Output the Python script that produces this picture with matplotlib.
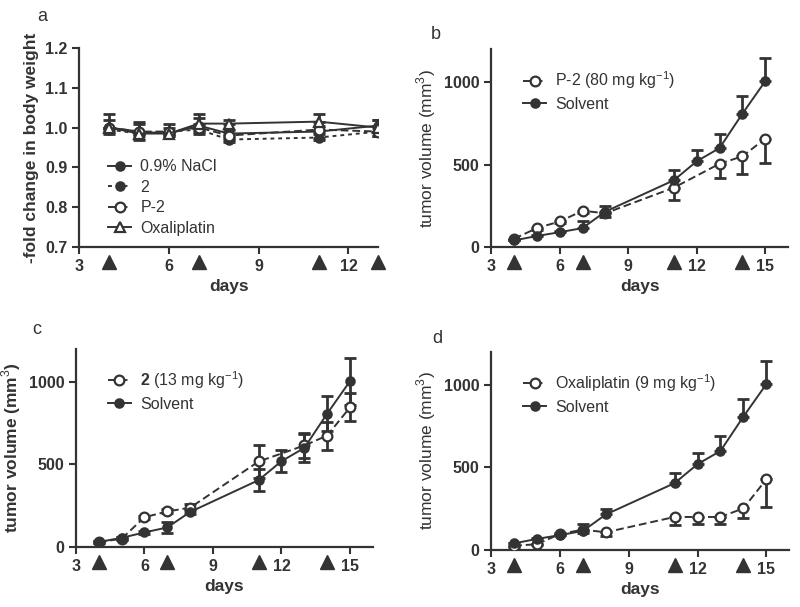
import matplotlib
matplotlib.use("Agg")
import matplotlib.pyplot as plt
import matplotlib.transforms as mtransforms

plt.rcParams['font.family'] = ['Liberation Sans', 'DejaVu Sans']
plt.rcParams['mathtext.fontset'] = 'custom'
plt.rcParams['mathtext.rm'] = 'Liberation Sans'
plt.rcParams['mathtext.bf'] = 'Liberation Sans:bold'

# Данные: панель a (масса тела)
days_a = [4, 5, 6, 7, 8, 11, 13]
nacl = [1.000, 0.990, 0.985, 1.005, 0.985, 0.990, 1.005]
nacl_err = [0.020, 0.020, 0.015, 0.020, 0.010, 0.015, 0.015]
cpd2_a = [0.995, 0.985, 0.990, 0.995, 0.970, 0.975, 0.990]
cpd2_a_err = [0.010, 0.015, 0.010, 0.010, 0.005, 0.005, 0.010]
p2_a = [1.000, 0.990, 0.990, 1.000, 0.980, 0.995, 0.990]
p2_a_err = [0.010, 0.010, 0.010, 0.010, 0.005, 0.010, 0.010]
oxa_a = [1.000, 0.985, 0.985, 1.010, 1.010, 1.015, 1.000]
oxa_a_err = [0.035, 0.030, 0.025, 0.025, 0.010, 0.018, 0.020]
arrows_a = [4, 7, 11, 13]

# Данные: панели b-d (объём опухоли)
days_t = [4, 5, 6, 7, 8, 11, 12, 13, 14, 15]
solvent = [40, 67, 90, 115, 215, 405, 520, 600, 808, 1005]
solvent_err = [5, 8, 10, 40, 35, 62, 70, 88, 110, 142]

days_p2 = [4, 5, 6, 7, 8, 11, 13, 14, 15]
p2 = [50, 115, 155, 220, 205, 360, 505, 550, 657]
p2_err = [8, 10, 10, 15, 20, 75, 86, 106, 145]

cpd2_days = [4, 5, 6, 7, 8, 11, 13, 14, 15]
cpd2 = [28, 50, 180, 215, 238, 518, 615, 675, 846]
cpd2_err = [5, 8, 10, 12, 20, 100, 75, 85, 85]
solvent_c = [30, 55, 88, 118, 212, 405, 520, 600, 808, 1005]
solvent_c_err = [5, 8, 8, 35, 15, 65, 68, 85, 107, 142]

oxa = [25, 35, 97, 123, 107, 200, 200, 200, 252, 428]
oxa_err = [5, 8, 8, 20, 20, 50, 40, 45, 60, 170]
arrows_t = [4, 7, 11, 14]

col = '#333333'

fig = plt.figure(figsize=(8, 6.07), dpi=100)
ax_a = fig.add_axes([0.099, 0.593, 0.374, 0.328])
ax_b = fig.add_axes([0.614, 0.593, 0.371, 0.326])
ax_c = fig.add_axes([0.095, 0.099, 0.371, 0.326])
ax_d = fig.add_axes([0.614, 0.094, 0.3725, 0.326])


def style_axis(ax, xmax, arrows, xticks, yticks, ylabels):
    for s in ['top', 'right']:
        ax.spines[s].set_visible(False)
    for s in ['left', 'bottom']:
        ax.spines[s].set_linewidth(1.6)
        ax.spines[s].set_color(col)
    ax.tick_params(direction='out', length=5, width=1.5, colors=col, labelsize=11.5)
    ax.set_xlim(3, xmax)
    ax.set_xticks(xticks)
    ax.set_xticklabels([str(t) for t in xticks], fontweight='bold')
    ax.set_yticks(yticks)
    ax.set_yticklabels(ylabels, fontweight='bold')
    tr = mtransforms.blended_transform_factory(ax.transData, ax.transAxes)
    ax.plot(arrows, [-0.075] * len(arrows), '^', color=col, markersize=10,
            transform=tr, clip_on=False)
    ax.set_xlabel('days', fontsize=12.5, fontweight='bold', color=col, labelpad=4)


def series(ax, x, y, err, filled, ls, lower, marker='o', label=None, both=False):
    if both:
        yerr = err
    elif lower:
        yerr = [err, [0] * len(err)]
    else:
        yerr = [[0] * len(err), err]
    ax.errorbar(x, y, yerr=yerr, fmt='none', ecolor=col, elinewidth=2,
                capsize=4, capthick=2, zorder=2)
    ms = 6 if marker == 'o' and filled else 7
    ax.plot(x, y, linestyle=ls, marker=marker, color=col, lw=1.4,
            markersize=ms, markeredgewidth=1.6,
            markerfacecolor=col if filled else 'white',
            markeredgecolor=col, label=label, zorder=3)


def legend(ax, **kw):
    ax.legend(frameon=False, fontsize=11.5, handlelength=1.4, handletextpad=0.6,
              labelspacing=0.35, labelcolor=col, **kw)


# a
series(ax_a, days_a, nacl, nacl_err, True, '-', False, label='0.9% NaCl')
series(ax_a, days_a, cpd2_a, cpd2_a_err, True, (0, (2, 2)), True, label='2')
series(ax_a, days_a, p2_a, p2_a_err, False, (0, (4, 2)), True, label='P-2')
series(ax_a, days_a, oxa_a, oxa_a_err, False, '-', False, marker='^', label='Oxaliplatin')
ax_a.set_ylim(0.7, 1.2)
style_axis(ax_a, 13, arrows_a, [3, 6, 9, 12], [0.7, 0.8, 0.9, 1.0, 1.1, 1.2],
           ['0.7', '0.8', '0.9', '1.0', '1.1', '1.2'])
ax_a.set_ylabel('-fold change in body weight', fontsize=12.5, fontweight='bold', color=col)
legend(ax_a, loc='lower left', bbox_to_anchor=(0.06, 0.0), borderaxespad=0.3)

# b
series(ax_b, days_p2, p2, p2_err, False, (0, (4, 2)), True, label='P-2 (80 mg kg$^{-1}$)')
series(ax_b, days_t, solvent, solvent_err, True, '-', False, label='Solvent')

# c
series(ax_c, cpd2_days, cpd2, cpd2_err, False, (0, (4, 2)), True, both=True,
       label=r'$\mathbf{2}$ (13 mg kg$^{-1}$)')
series(ax_c, days_t, solvent_c, solvent_c_err, True, '-', False, both=True, label='Solvent')

# d
series(ax_d, days_t, oxa, oxa_err, False, (0, (4, 2)), True, label='Oxaliplatin (9 mg kg$^{-1}$)')
series(ax_d, days_t, solvent, solvent_err, True, '-', False, label='Solvent')

for ax, bold in [(ax_b, False), (ax_c, True), (ax_d, False)]:
    ax.set_ylim(0, 1200)
    style_axis(ax, 16, arrows_t, [3, 6, 9, 12, 15], [0, 500, 1000], ['0', '500', '1000'])
    ax.set_ylabel('tumor volume (mm$^3$)', fontsize=12.5,
                  fontweight='bold' if bold else 'normal', color=col)
    legend(ax, loc='upper left', bbox_to_anchor=(0.06, 0.97))

for txt, x, y in [('a', 0.046, 0.965), ('b', 0.538, 0.935), ('c', 0.04, 0.45), ('d', 0.54, 0.435)]:
    fig.text(x, y, txt, fontsize=13, color=col)

fig.savefig('out.png', dpi=100)
